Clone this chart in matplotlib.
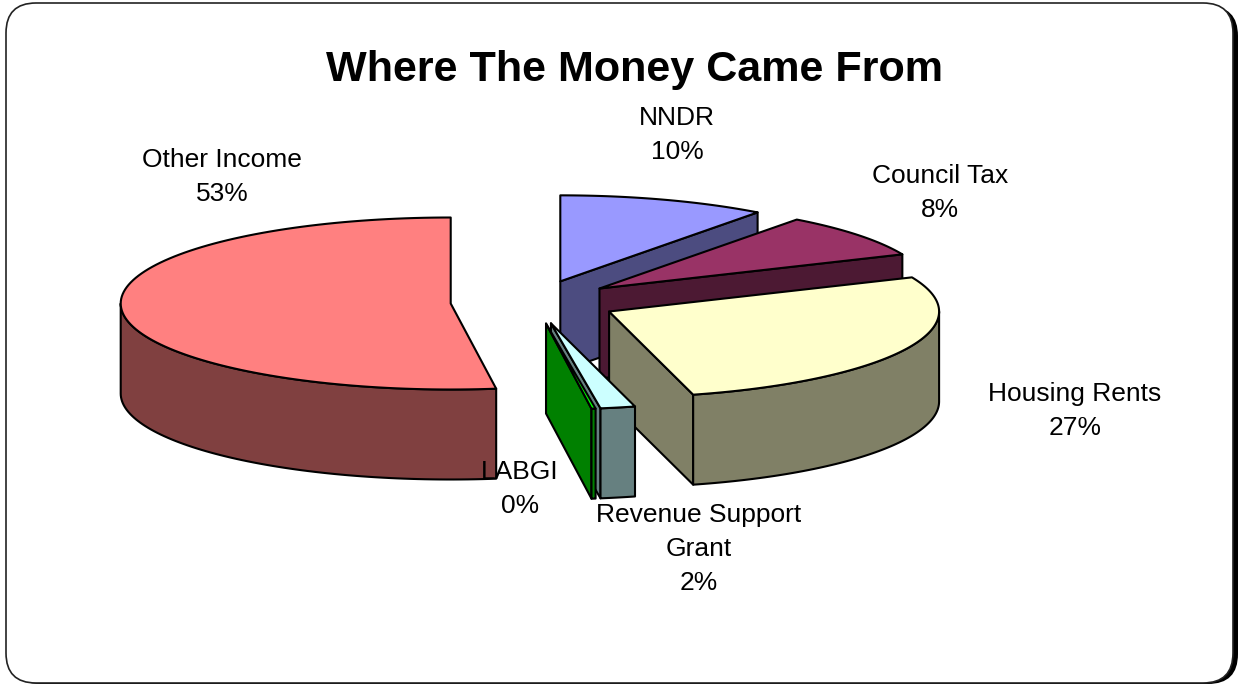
import numpy as np
import matplotlib
matplotlib.use('Agg')
import matplotlib.pyplot as plt
from matplotlib.patches import FancyBboxPatch, Polygon

plt.rcParams['font.family'] = ['Liberation Sans', 'DejaVu Sans']

# clockwise from 12 o'clock
categories = ['NNDR', 'Council Tax', 'Housing Rents', 'Revenue Support\nGrant', 'LABGI', 'Other Income']
values = [10.2, 8.3, 27.4, 1.7, 0.2, 52.2]
pct_labels = ['10%', '8%', '27%', '2%', '0%', '53%']

top_colors = ['#9999FF', '#993366', '#FFFFCC', '#CCFFFF', '#00FF00', '#FF8080']
side_colors = ['#4C4C80', '#4C1933', '#808066', '#668080', '#008000', '#804040']
label_pos = [(677, 135), (940, 193), (1075, 411), (699, 549), (520, 489), (222, 177)]

# projection of the tilted pie, in pixels
CX, CY = 534, 302
RX, RY = 330, 86
DEPTH = 90
EXPLODE = 0.253
LW = 1.5


def rim(theta, ox, oy):
    t = np.radians(theta)
    return ox + RX * np.sin(t), oy - RY * np.cos(t)


def add_poly(ax, pts, color):
    ax.add_patch(Polygon(pts, closed=True, facecolor=color, edgecolor='black',
                         linewidth=LW, joinstyle='round'))


def draw_radial_wall(ax, theta, ox, oy, color):
    x, y = rim(theta, ox, oy)
    add_poly(ax, [(ox, oy), (x, y), (x, y + DEPTH), (ox, oy + DEPTH)], color)


def draw_slice(ax, t0, t1, top, side):
    mid = np.radians((t0 + t1) / 2)
    ox = CX + RX * EXPLODE * np.sin(mid)
    oy = CY - RY * EXPLODE * np.cos(mid)

    # only the walls that face the viewer
    if t0 > 180:
        draw_radial_wall(ax, t0, ox, oy, side)
    if t1 < 180:
        draw_radial_wall(ax, t1, ox, oy, side)
    a, b = max(t0, 90), min(t1, 270)
    if b > a:
        th = np.linspace(a, b, 80)
        x, y = rim(th, ox, oy)
        pts = list(zip(x, y)) + list(zip(x[::-1], y[::-1] + DEPTH))
        add_poly(ax, pts, side)

    th = np.linspace(t0, t1, 120)
    x, y = rim(th, ox, oy)
    add_poly(ax, [(ox, oy)] + list(zip(x, y)), top)


fig = plt.figure(figsize=(12.38, 6.84), dpi=100)
ax = fig.add_axes([0, 0, 1, 1])
ax.set_xlim(0, 1238)
ax.set_ylim(684, 0)
ax.axis('off')

# frame with drop shadow
ax.add_patch(FancyBboxPatch((10, 6), 1228, 678, boxstyle='round,pad=0,rounding_size=30',
                            facecolor='black', edgecolor='none'))
ax.add_patch(FancyBboxPatch((6, 3), 1227, 680, boxstyle='round,pad=0,rounding_size=30',
                            facecolor='white', edgecolor='#222222', linewidth=1.2))

edges = np.concatenate([[0], np.cumsum(values)]) / np.sum(values) * 360
for i in range(len(values)):
    draw_slice(ax, edges[i], edges[i + 1], top_colors[i], side_colors[i])

ax.text(634, 65, 'Where The Money Came From', fontsize=31.1, fontweight='bold',
        ha='center', va='center_baseline', color='black')

for name, pct, pos in zip(categories, pct_labels, label_pos):
    ax.text(pos[0], pos[1], name + '\n' + pct, fontsize=19, ha='center', va='center',
            linespacing=1.52, color='black')

fig.savefig('out.png', dpi=100)
